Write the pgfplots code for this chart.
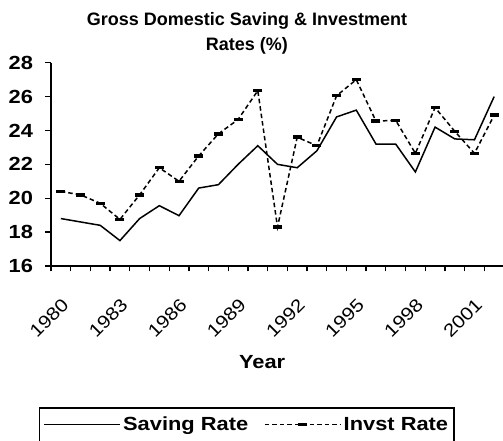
\documentclass[border=0pt]{standalone}
\usepackage{pgfplots}
\pgfplotsset{compat=1.18}
\usepackage{fontspec}
\setmainfont{Liberation Sans}
\newfontfamily\wide[FakeStretch=1.15]{Liberation Sans}
\begin{document}
\begin{tikzpicture}[x=1pt,y=1pt]
\useasboundingbox (0,0) rectangle (503,441);
\node[font=\bfseries\fontsize{18}{25}\selectfont, align=center] at (247,408) {Gross Domestic Saving \& Investment\\Rates (\%)};
\begin{axis}[
  at={(51pt,175pt)}, anchor=south west,
  scale only axis, width=453pt, height=203.3pt,
  xmin=-0.5, xmax=22.5, ymin=16, ymax=28,
  axis x line*=bottom, axis y line*=left,
  axis line style={-, line width=1.3pt, black},
  tick align=outside, major tick length=5.5pt, minor tick length=5.5pt,
  tick style={line width=1.3pt, black},
  xtick={0,3,6,9,12,15,18,21},
  xticklabels={1980,1983,1986,1989,1992,1995,1998,2001},
  major x tick style={draw=none},
  minor xtick={-0.5,0.5,...,22.5},
  xticklabel style={xshift=0pt, yshift=-24pt, rotate=45, anchor=north east, font=\wide\fontsize{18}{18}\selectfont, inner sep=1pt},
  ytick={16,18,...,28},
  yticklabel style={font=\wide\bfseries\fontsize{19}{19}\selectfont, xshift=-9pt},
  /pgf/number format/assume math mode=true,
  xlabel={Year},
  xlabel style={font=\wide\bfseries\fontsize{19}{19}\selectfont, at={(axis description cs:0.466,-0.473)}, anchor=center},
  legend columns=2,
  legend style={at={(axis description cs:-0.0265,-0.695)}, anchor=north west,
     draw=black, line width=1.3pt, font=\wide\bfseries\fontsize{19}{19}\selectfont,
     inner xsep=4pt, inner ysep=7pt,
     /tikz/every even column/.append style={column sep=14pt}},
  legend image code/.code={\draw[mark repeat=2, mark phase=2, #1] plot coordinates {(0pt,0pt) (38pt,0pt) (76pt,0pt)};},
]
\addplot[black, line width=1.5pt, mark=none] coordinates {
(0,18.8) (1,18.6) (2,18.4) (3,17.5) (4,18.8) (5,19.56) (6,18.97) (7,20.6) (8,20.8) (9,22.0) (10,23.1) (11,22.0) (12,21.8) (13,22.8) (14,24.8) (15,25.2) (16,23.2) (17,23.2) (18,21.55) (19,24.2) (20,23.5) (21,23.45) (22,26.0)};
\addlegendentry{Saving Rate}
\addplot[black, line width=1.5pt, dash pattern=on 4.5pt off 3pt, mark=-, mark size=4.5pt, mark options={solid, line width=3.5pt}] coordinates {
(0,20.4) (1,20.2) (2,19.7) (3,18.75) (4,20.2) (5,21.8) (6,21.0) (7,22.5) (8,23.8) (9,24.65) (10,26.35) (11,18.3) (12,23.6) (13,23.1) (14,26.05) (15,27.0) (16,24.55) (17,24.6) (18,22.65) (19,25.35) (20,23.95) (21,22.65) (22,24.9)};
\addlegendentry{Invst Rate}
\end{axis}
\end{tikzpicture}
\end{document}
